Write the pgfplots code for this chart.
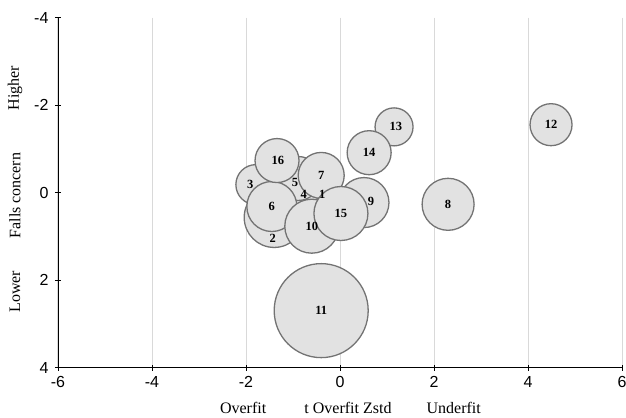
\documentclass[border=0pt]{standalone}
\usepackage{pgfplots}
\pgfplotsset{compat=1.18}
\usepackage{pgfplotstable}
\usepackage{fontspec}
\setmainfont{Liberation Serif}
\newfontfamily\arialfont{Liberation Sans}
\definecolor{bubfill}{HTML}{E2E2E2}
\definecolor{bubedge}{HTML}{737373}
\definecolor{gridc}{HTML}{D9D9D9}

\pgfplotstableread{
id x y r lx ly
1 -0.38 0.05 15 -0.38 0.05
2 -1.40 0.57 30 -1.43 1.05
3 -1.79 -0.18 20 -1.91 -0.18
4 -0.77 0.05 14 -0.77 0.05
5 -0.89 -0.32 22 -0.96 -0.23
6 -1.45 0.32 25 -1.45 0.32
7 -0.40 -0.39 23 -0.40 -0.39
8 2.30 0.27 26 2.30 0.27
9 0.51 0.23 25 0.66 0.20
10 -0.60 0.77 27 -0.60 0.77
11 -0.40 2.70 47 -0.40 2.70
12 4.49 -1.55 21 4.49 -1.55
13 1.15 -1.50 19 1.19 -1.52
14 0.62 -0.91 22 0.62 -0.91
15 0.02 0.48 27 0.02 0.48
16 -1.34 -0.73 22 -1.32 -0.73
}\bubbles

\begin{document}
\begin{tikzpicture}
\begin{axis}[
  scale only axis, width=564pt, height=350pt,
  xmin=-6, xmax=6, ymin=-4, ymax=4, y dir=reverse,
  xtick={-6,-4,...,6}, ytick={-4,-2,...,4},
  axis x line=bottom, axis y line=left,
  axis line style={-, black, line width=0.9pt},
  xmajorgrids, grid style={gridc, line width=1pt},
  tick align=center, major tick length=6pt,
  tick style={black, line width=0.8pt},
  ticklabel style={font=\arialfont\fontsize{16}{16}\selectfont},
  /pgf/number format/assume math mode=true,
  xticklabel style={yshift=-2pt},
  yticklabel style={xshift=-3pt},
  clip=false,
]
\addplot[scatter, only marks, mark=*,
  scatter/use mapped color={draw=bubedge, fill=bubfill},
  mark options={line width=1.3pt},
  visualization depends on={\thisrow{r} \as \rad},
  scatter/@pre marker code/.append style={/tikz/mark size=\rad pt}]
  table[x=x, y=y] {\bubbles};
\addplot[draw=none, mark=none, point meta=explicit symbolic,
  nodes near coords,
  nodes near coords style={anchor=center, inner sep=0pt, text=black,
    font=\bfseries\fontsize{12.5}{12.5}\selectfont}]
  table[x=lx, y=ly, meta=id] {\bubbles};
\node[rotate=90, font=\fontsize{16}{16}\selectfont] at ([xshift=-43pt]axis cs:-6,-2.39) {Higher};
\node[rotate=90, font=\fontsize{16}{16}\selectfont] at ([xshift=-43pt]axis cs:-6,0.07) {Falls concern};
\node[rotate=90, font=\fontsize{16}{16}\selectfont] at ([xshift=-43pt]axis cs:-6,2.27) {Lower};
\node[font=\fontsize{16}{16}\selectfont] at ([yshift=-40pt]axis cs:-2.06,4) {Overfit};
\node[font=\fontsize{16}{16}\selectfont] at ([yshift=-40pt]axis cs:0.17,4) {t Overfit Zstd};
\node[font=\fontsize{16}{16}\selectfont] at ([yshift=-40pt]axis cs:2.42,4) {Underfit};
\end{axis}
\pgfresetboundingbox
\path (-58pt,-50pt) rectangle (568pt,367.5pt);
\end{tikzpicture}
\end{document}
